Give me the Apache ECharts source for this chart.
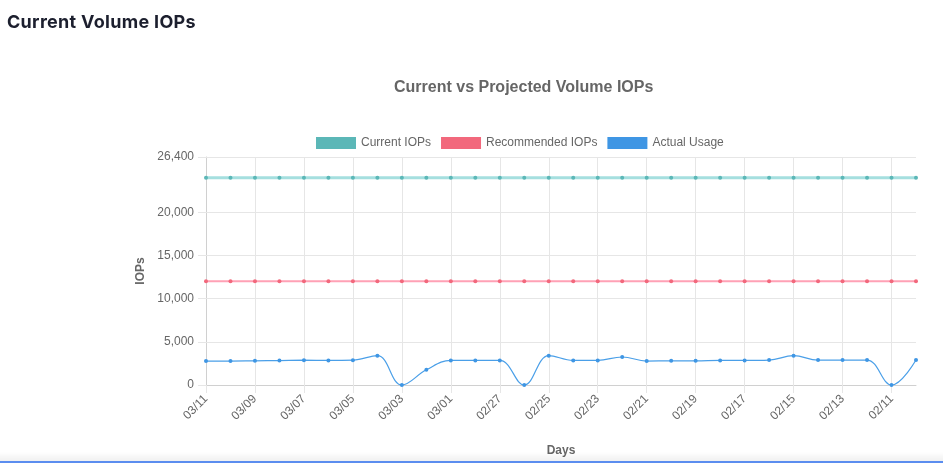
<!DOCTYPE html>
<html>
<head>
<meta charset="utf-8">
<script src="https://cdn.jsdelivr.net/npm/echarts@6/dist/echarts.min.js"></script>
<style>
  html, body { margin: 0; padding: 0; background: #fff; }
  #page { position: relative; width: 943px; height: 463px; overflow: hidden; }
  #heading {
    position: absolute; left: 7px; top: 11px; z-index: 2;
    font-family: Inter, "Noto Sans", sans-serif; font-weight: 700; font-size: 18px;
    color: #1c1f2e; letter-spacing: 0.3px;
  }
  #chart { position: absolute; left: 0; top: 0; width: 943px; height: 463px; }
  #shade { position: absolute; left: 0; top: 452px; width: 943px; height: 9px;
    background: linear-gradient(to bottom, rgba(0,0,0,0), rgba(0,0,0,0.06)); }
  #bar { position: absolute; left: 0; top: 461px; width: 943px; height: 2px; background: #5b8def; }
</style>
</head>
<body>
<div id="page">
  <div id="heading">Current Volume IOPs</div>
  <div id="chart"></div>
  <div id="shade"></div>
  <div id="bar"></div>
</div>
<script>
// 日期（由近到远）
let days = ['03/11', '03/10', '03/09', '03/08', '03/07', '03/06', '03/05', '03/04', '03/03', '03/02',
    '03/01', '02/28', '02/27', '02/26', '02/25', '02/24', '02/23', '02/22', '02/21', '02/20',
    '02/19', '02/18', '02/17', '02/16', '02/15', '02/14', '02/13', '02/12', '02/11', '02/10'];

let currentIops = [24000, 24000, 24000, 24000, 24000, 24000, 24000, 24000, 24000, 24000,
    24000, 24000, 24000, 24000, 24000, 24000, 24000, 24000, 24000, 24000,
    24000, 24000, 24000, 24000, 24000, 24000, 24000, 24000, 24000, 24000];

let recommendedIops = [12000, 12000, 12000, 12000, 12000, 12000, 12000, 12000, 12000, 12000,
    12000, 12000, 12000, 12000, 12000, 12000, 12000, 12000, 12000, 12000,
    12000, 12000, 12000, 12000, 12000, 12000, 12000, 12000, 12000, 12000];

let actualUsage = [2770, 2770, 2800, 2830, 2870, 2850, 2880, 3400, 0, 1760,
    2850, 2850, 2850, 0, 3400, 2850, 2850, 3240, 2770, 2800,
    2800, 2850, 2850, 2890, 3400, 2890, 2890, 2890, 0, 2890];

let yTicks = [0, 5000, 10000, 15000, 20000, 26400];
let yMax = 26400;

let font = '"Liberation Sans", Arial, sans-serif';
let gridColor = '#e6e6e6';

let myChart = echarts.init(document.getElementById('chart'));

let option = {
    animation: false,
    textStyle: {fontFamily: font},
    title: {
        text: 'Current vs Projected Volume IOPs',
        left: 389,
        top: 75,
        textStyle: {fontSize: 16, fontWeight: 'bold', color: '#666', fontFamily: font}
    },
    legend: {
        data: ['Current IOPs', 'Recommended IOPs', 'Actual Usage'],
        left: 311,
        top: 132,
        icon: 'rect',
        itemWidth: 40,
        itemHeight: 12,
        itemGap: 10,
        textStyle: {fontSize: 12, color: '#666', fontFamily: font}
    },
    grid: {left: 206, right: 27, top: 157, bottom: 78},
    xAxis: {
        type: 'category',
        data: days,
        boundaryGap: false,
        name: 'Days',
        nameLocation: 'middle',
        nameGap: 60,
        nameTextStyle: {fontSize: 12, fontWeight: 'bold', color: '#666'},
        axisLine: {lineStyle: {color: '#d0d0d0'}},
        axisTick: {interval: 1, length: 8, lineStyle: {color: gridColor}},
        axisLabel: {interval: 1, rotate: 45, fontSize: 12, color: '#666', margin: 12},
        splitLine: {show: true, interval: 1, lineStyle: {color: gridColor}}
    },
    yAxis: {
        type: 'value',
        min: 0,
        max: yMax,
        name: 'IOPs',
        nameLocation: 'middle',
        nameGap: 59,
        nameTextStyle: {fontSize: 12, fontWeight: 'bold', color: '#666'},
        axisLine: {show: true, lineStyle: {color: '#d0d0d0'}},
        axisTick: {show: true, length: 8, customValues: yTicks, lineStyle: {color: gridColor}},
        axisLabel: {
            customValues: yTicks,
            fontSize: 12,
            color: '#666',
            margin: 12,
            formatter: v => v.toLocaleString('en-US')
        },
        splitLine: {show: false}
    },
    series: [
        {
            // 横向网格线
            name: 'grid',
            type: 'line',
            data: [],
            z: 1,
            silent: true,
            markLine: {
                silent: true,
                symbol: 'none',
                label: {show: false},
                lineStyle: {color: gridColor, type: 'solid', width: 1},
                data: yTicks.slice(1).map(v => ({yAxis: v}))
            }
        },
        {
            name: 'Current IOPs',
            type: 'line',
            data: currentIops,
            smooth: 0.4,
            symbol: 'circle',
            symbolSize: 4,
            itemStyle: {color: '#5bb7b7'},
            lineStyle: {color: 'rgba(75,192,192,0.5)', width: 3}
        },
        {
            name: 'Recommended IOPs',
            type: 'line',
            data: recommendedIops,
            smooth: 0.4,
            symbol: 'circle',
            symbolSize: 4,
            itemStyle: {color: '#f2687c'},
            lineStyle: {color: 'rgba(255,99,132,0.6)', width: 2}
        },
        {
            name: 'Actual Usage',
            type: 'line',
            data: actualUsage,
            smooth: 0.4,
            symbol: 'circle',
            symbolSize: 4,
            itemStyle: {color: '#3f96e4'},
            lineStyle: {color: '#4a9fe8', width: 1.2}
        }
    ]
};

myChart.setOption(option);
</script>
</body>
</html>
